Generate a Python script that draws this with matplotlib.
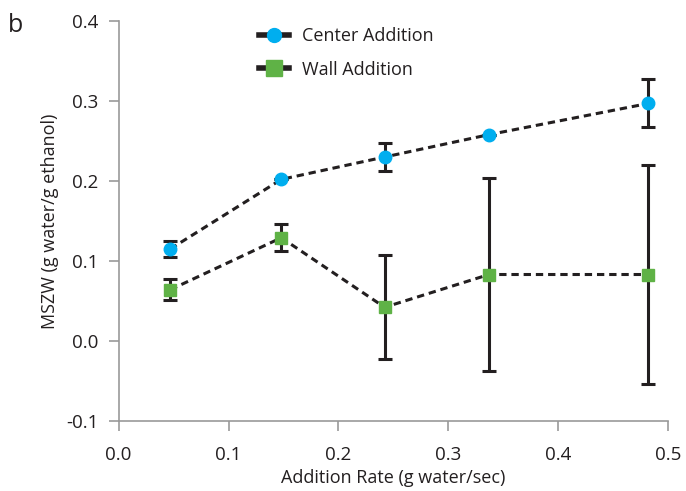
import matplotlib
matplotlib.use("Agg")
import matplotlib.pyplot as plt

plt.rcParams['font.family'] = ['Open Sans', 'DejaVu Sans']

rate = [0.047, 0.148, 0.242, 0.337, 0.482]
center = [0.115, 0.202, 0.230, 0.258, 0.297]
center_err = [0.010, 0.0, 0.018, 0.0, 0.030]
wall = [0.064, 0.129, 0.042, 0.083, 0.083]
wall_err = [0.013, 0.017, 0.065, 0.121, 0.137]

xticks = [0.0, 0.1, 0.2, 0.3, 0.4, 0.5]
yticks = [-0.1, 0.0, 0.1, 0.2, 0.3, 0.4]


def main():
    fig = plt.figure(figsize=(6.86, 4.91), dpi=100)
    ax = fig.add_axes([0.173, 0.143, 0.801, 0.814])

    ax.errorbar(rate, center, yerr=center_err, fmt='o', color='#00aeef',
                ecolor='#231f20', elinewidth=2.2, capsize=5, capthick=2.2,
                markersize=9, zorder=3)
    ax.errorbar(rate, wall, yerr=wall_err, fmt='s', color='#5fb246',
                ecolor='#231f20', elinewidth=2.2, capsize=5, capthick=2.2,
                markersize=9, zorder=3)
    ax.plot(rate, center, color='#231f20', linestyle=(0, (2.4, 1.6)), linewidth=2.2, zorder=2)
    ax.plot(rate, wall, color='#231f20', linestyle=(0, (2.4, 1.6)), linewidth=2.2, zorder=2)

    # legend proxies
    h1, = ax.plot([], [], '-o', color='#231f20', markerfacecolor='#00aeef',
                  markeredgecolor='#00aeef', markersize=10, linewidth=4)
    h2, = ax.plot([], [], '-s', color='#231f20', markerfacecolor='#5fb246',
                  markeredgecolor='#5fb246', markersize=11, linewidth=4)
    ax.legend([h1, h2], ['Center Addition', 'Wall Addition'], loc='upper left',
              bbox_to_anchor=(0.225, 1.025), frameon=False, fontsize=13,
              handlelength=1.7, handletextpad=0.7, labelspacing=0.85,
              labelcolor='#231f20')

    ax.set_xlim(0, 0.5)
    ax.set_ylim(-0.1, 0.4)
    ax.set_xticks(xticks)
    ax.set_yticks(yticks)
    ax.set_xticklabels(['%.1f' % t for t in xticks])
    ax.set_yticklabels(['%.1f' % t for t in yticks])
    ax.tick_params(colors='#999999', labelcolor='#231f20', labelsize=13.5,
                   length=7.5, width=1.2)
    ax.tick_params(axis='x', pad=11)
    ax.tick_params(axis='y', pad=7)

    for side in ['top', 'right']:
        ax.spines[side].set_visible(False)
    for side in ['left', 'bottom']:
        ax.spines[side].set_color('#999999')
        ax.spines[side].set_linewidth(1.2)

    ax.set_xlabel('Addition Rate (g water/sec)', fontsize=13, color='#231f20', labelpad=3)
    ax.set_ylabel('MSZW (g water/g ethanol)', fontsize=13, color='#231f20', labelpad=5)

    fig.text(0.012, 0.935, 'b', fontsize=18, color='#231f20')

    fig.savefig('out.png', dpi=100)


if __name__ == "__main__":
    main()
